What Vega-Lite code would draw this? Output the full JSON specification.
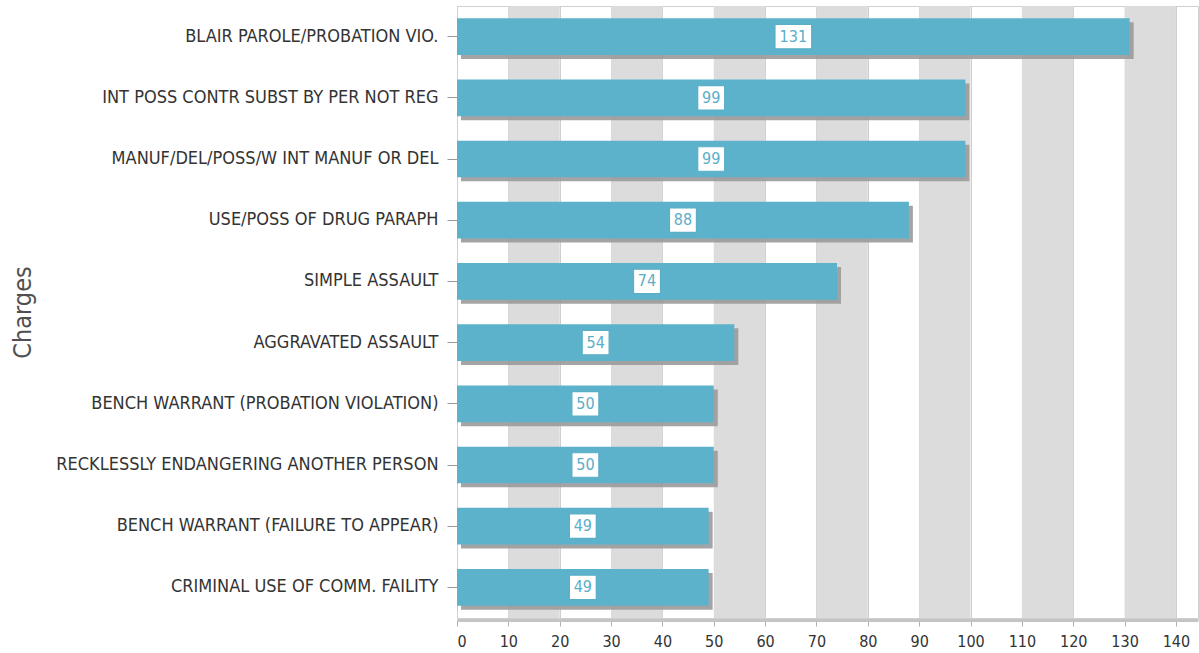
{
  "$schema": "https://vega.github.io/schema/vega-lite/v6.json",
  "autosize": {"type": "none"},
  "width": 741,
  "height": 612,
  "padding": {"left": 457, "top": 6, "right": 1, "bottom": 35},
  "background": "white",
  "config": {
    "font": "DejaVu Sans Condensed, DejaVu Sans",
    "view": {"stroke": "#d0d0d0", "strokeWidth": 1}
  },
  "datasets": {
    "charges": [
      {"charge": "BLAIR PAROLE/PROBATION VIO.", "count": 131},
      {"charge": "INT POSS CONTR SUBST BY PER NOT REG", "count": 99},
      {"charge": "MANUF/DEL/POSS/W INT MANUF OR DEL", "count": 99},
      {"charge": "USE/POSS OF DRUG PARAPH", "count": 88},
      {"charge": "SIMPLE ASSAULT", "count": 74},
      {"charge": "AGGRAVATED ASSAULT", "count": 54},
      {"charge": "BENCH WARRANT (PROBATION VIOLATION)", "count": 50},
      {"charge": "RECKLESSLY ENDANGERING ANOTHER PERSON", "count": 50},
      {"charge": "BENCH WARRANT (FAILURE TO APPEAR)", "count": 49},
      {"charge": "CRIMINAL USE OF COMM. FAILITY", "count": 49}
    ],
    "stripes": [
      {"start": 10, "end": 20},
      {"start": 30, "end": 40},
      {"start": 50, "end": 60},
      {"start": 70, "end": 80},
      {"start": 90, "end": 100},
      {"start": 110, "end": 120},
      {"start": 130, "end": 140}
    ]
  },
  "layer": [
    {
      "data": {"name": "stripes"},
      "mark": {"type": "rect", "color": "#dcdcdc"},
      "encoding": {
        "x": {
          "field": "start", "type": "quantitative",
          "scale": {"domain": [0, 144.3], "nice": false},
          "axis": {
            "title": null,
            "values": [0, 10, 20, 30, 40, 50, 60, 70, 80, 90, 100, 110, 120, 130, 140],
            "grid": true,
            "gridColor": "#cfcfcf",
            "labelFontSize": 16,
            "labelColor": "#333333",
            "labelPadding": 7,
            "tickColor": "#b0b0b0",
            "tickSize": 6,
            "domainColor": "#c4c4c4",
            "domainWidth": 3,
            "offset": 2
          }
        },
        "x2": {"field": "end"}
      }
    },
    {
      "data": {"name": "charges"},
      "layer": [
        {
          "mark": {"type": "bar", "color": "#9a9a9a", "opacity": 0.9, "xOffset": 4, "x2Offset": 4, "yOffset": 4, "y2Offset": 4},
          "encoding": {
            "y": {
              "field": "charge", "type": "nominal", "sort": null,
              "scale": {"paddingInner": 0.4, "paddingOuter": 0.2},
              "axis": {
                "title": "Charges",
                "titleFontSize": 25,
                "titleFontWeight": "normal",
                "titleColor": "#505050",
                "titleX": -435,
                "titleY": 306,
                "titleAngle": -90,
                "titleAlign": "center",
                "titleBaseline": "middle",
                "labelFontSize": 18,
                "labelColor": "#333333",
                "labelPadding": 9,
                "labelLimit": 500,
                "tickColor": "#999999",
                "tickSize": 10,
                "domainColor": "#d0d0d0"
              }
            },
            "x": {"field": "count", "type": "quantitative", "scale": {"domain": [0, 144.3], "nice": false}, "axis": null}
          }
        },
        {
          "mark": {"type": "bar", "color": "#5db2cb"},
          "encoding": {
            "y": {"field": "charge", "type": "nominal", "sort": null},
            "x": {"field": "count", "type": "quantitative", "scale": {"domain": [0, 144.3], "nice": false}, "axis": null}
          }
        },
        {
          "mark": {"type": "point", "filled": false, "fill": "white", "fillOpacity": 1, "stroke": "#5aaec6", "strokeWidth": 1.2, "opacity": 1, "size": 600},
          "encoding": {
            "y": {"field": "charge", "type": "nominal", "sort": null},
            "x": {"field": "count", "type": "quantitative", "scale": {"domain": [0, 288.6], "nice": false}, "axis": null},
            "shape": {
              "condition": {"test": "datum.count >= 100", "value": "M-1.5,-1H1.5V1H-1.5Z"},
              "value": "M-1.1,-1H1.1V1H-1.1Z"
            }
          }
        },
        {
          "mark": {"type": "text", "color": "#5aaec6", "fontSize": 16, "baseline": "middle", "align": "center"},
          "encoding": {
            "y": {"field": "charge", "type": "nominal", "sort": null},
            "x": {"field": "count", "type": "quantitative", "scale": {"domain": [0, 288.6], "nice": false}, "axis": null},
            "text": {"field": "count", "type": "quantitative"}
          }
        }
      ],
      "resolve": {"scale": {"x": "independent"}}
    }
  ]
}
